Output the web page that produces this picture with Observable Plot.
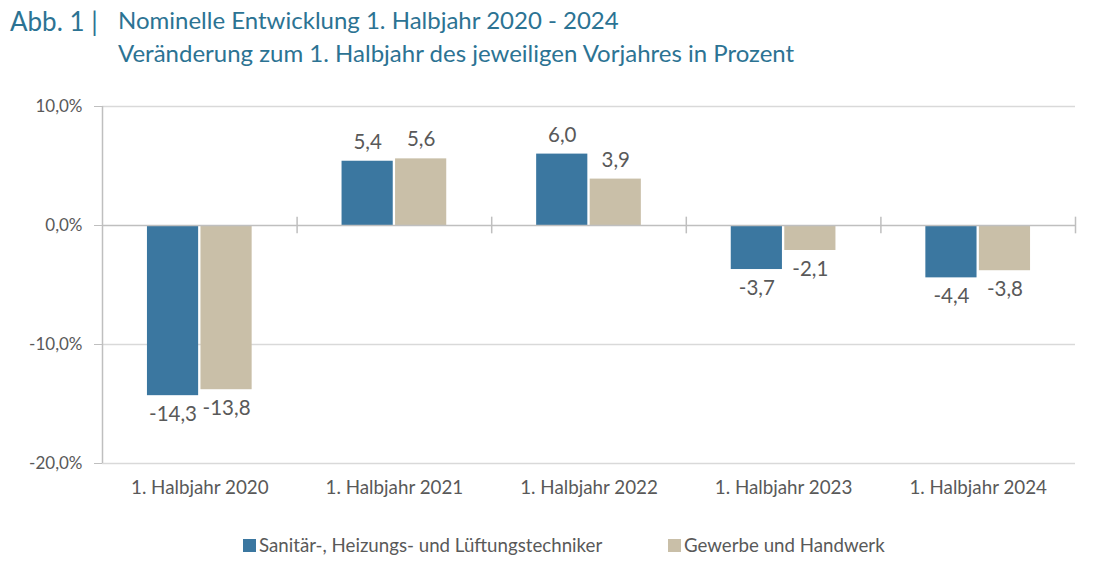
<!DOCTYPE html>
<html><head><meta charset="utf-8">
<script src="https://cdn.jsdelivr.net/npm/d3@7"></script>
<script src="https://cdn.jsdelivr.net/npm/@observablehq/plot@0.6"></script>
<style>
body{margin:0;background:#fff;font-family:Lato,"Open Sans",sans-serif;}
#wrap{position:relative;width:1110px;height:578px;overflow:hidden;}
.t{position:absolute;color:#2c7393;font-size:24px;white-space:nowrap;line-height:1;}
#chart{position:absolute;left:0;top:80px;}
#legend{position:absolute;top:534px;left:0;width:1110px;font-size:18.7px;color:#595959;}
.li{position:absolute;display:flex;align-items:center;white-space:nowrap;}
.sw{width:13px;height:13px;margin-right:3px;display:inline-block;}
</style></head>
<body><div id="wrap">
<div class="t" style="left:10px;top:8px;font-size:26px" id="abb"></div>
<div class="t" style="left:118px;top:8px" id="title"></div>
<div class="t" style="left:118px;top:41px" id="subtitle"></div>
<div id="chart"></div>
<div id="legend"></div>
</div>
<script>
const abbText = "Abb. 1 |";
const titleText = "Nominelle Entwicklung 1. Halbjahr 2020 - 2024";
const subtitleText = "Veränderung zum 1. Halbjahr des jeweiligen Vorjahres in Prozent";
const categories = ["1. Halbjahr 2020","1. Halbjahr 2021","1. Halbjahr 2022","1. Halbjahr 2023","1. Halbjahr 2024"];
const seriesNames = ["Sanitär-, Heizungs- und Lüftungstechniker","Gewerbe und Handwerk"];
const sanitaer = [-14.3, 5.4, 6.0, -3.7, -4.4];
const gewerbe = [-13.8, 5.6, 3.9, -2.1, -3.8];
const yTicks = [-20, -10, 0, 10];
const colors = ["#3b77a0", "#c9bfa8"];

document.getElementById("abb").textContent = abbText;
document.getElementById("title").textContent = titleText;
document.getElementById("subtitle").textContent = subtitleText;

const seriesValues = [sanitaer, gewerbe];
const rows = [];
categories.forEach((c, i) => seriesValues.forEach((vals, s) => rows.push({cat: c, i, s, series: seriesNames[s], value: vals[i]})));

const barW = 0.263, gap = 0.012;
const x1 = d => d.i + 0.5 + (d.s === 0 ? -gap/2 - barW : gap/2);
const x2 = d => x1(d) + barW;
const xc = d => x1(d) + barW/2;
const fmtNum = v => v.toFixed(1).replace(".", ",");
const fmtPct = v => fmtNum(v) + "%";

const chart = Plot.plot({
  width: 1110, height: 430,
  marginLeft: 102, marginRight: 35, marginTop: 26, marginBottom: 47,
  x: {domain: [0, categories.length], axis: null},
  y: {domain: [-20, 10], axis: null},
  style: {fontFamily: "Lato, 'Open Sans', sans-serif", background: "transparent"},
  marks: [
    Plot.ruleY([10, -10, -20], {stroke: "#d9d9d9", strokeWidth: 1.3}),
    Plot.rectY(rows, {x1, x2, y1: 0, y2: "value", fill: d => colors[d.s]}),
    Plot.ruleY([0], {stroke: "#bfbfbf", strokeWidth: 1.5}),
    Plot.ruleX([0], {stroke: "#bfbfbf", strokeWidth: 1.5}),
    Plot.ruleX(d3.range(1, categories.length + 1), {y1: -0.7, y2: 0.7, stroke: "#bfbfbf", strokeWidth: 1.5}),
    Plot.axisY({ticks: yTicks, label: null, tickSize: 8, tickPadding: 12, tickFormat: fmtPct, stroke: "#bfbfbf", fill: "#595959", fontSize: 17}),
    Plot.axisX({ticks: categories.map((c, i) => i + 0.5), label: null, tickFormat: v => categories[Math.floor(v)], tickSize: 0, tickPadding: 17, fill: "#595959", fontSize: 18.8}),
    Plot.text(rows.filter(d => d.value >= 0), {x: xc, y: "value", text: d => fmtNum(d.value), dy: -19, fill: "#595959", fontSize: 20.5}),
    Plot.text(rows.filter(d => d.value < 0), {x: xc, y: "value", text: d => fmtNum(d.value), dy: 19, fill: "#595959", fontSize: 20.5})
  ]
});
document.getElementById("chart").appendChild(chart);

const legend = document.getElementById("legend");
const legendX = [243, 668];
seriesNames.forEach((n, s) => {
  const el = document.createElement("div");
  el.className = "li";
  el.style.left = legendX[s] + "px";
  el.innerHTML = `<span class="sw" style="background:${colors[s]}"></span><span>${n}</span>`;
  legend.appendChild(el);
});
</script>
</body></html>
